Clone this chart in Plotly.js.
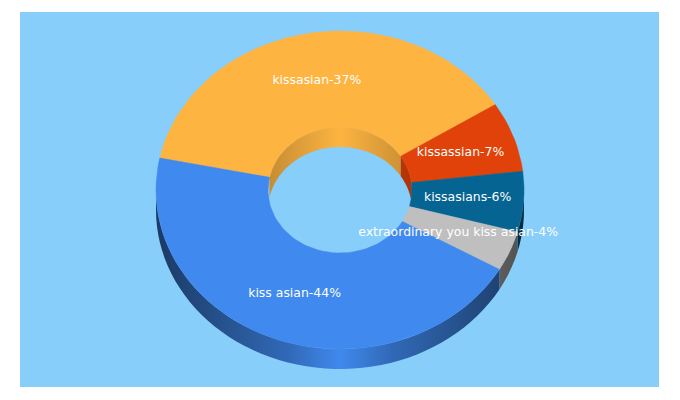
<!DOCTYPE html>
<html><head><meta charset="utf-8">
<script src="https://cdn.plot.ly/plotly-3.0.1.min.js"></script>
<style>html,body{margin:0;padding:0;background:#fff}#c{width:680px;height:400px}</style>
</head><body><div id="c"></div>
<script>
// Chart data
const categories = ["kissasian","kissassian","kissasians","extraordinary you kiss asian","kiss asian"];
const shares = [37,7,6,4,44];
const topColors = ["#fdb441","#e14209","#056492","#bfbfbf","#4089ee"];

// Geometry of the tilted ring
const outerX=184, outerY=159, innerX=72, innerY=63, depth=20, startDeg=281.6, steps=3;
const total = shares.reduce((a,b)=>a+b,0);
const rad = d=>d*Math.PI/180;
function shade(hex,f){
  const n=parseInt(hex.slice(1),16);
  return 'rgb('+[(n>>16)&255,(n>>8)&255,n&255].map(c=>Math.round(c*f)).join(',')+')';
}
function arc(rx,ry,a,b,dy){
  const xs=[],ys=[];
  const n=Math.max(2,Math.ceil(Math.abs(b-a)/steps));
  for(let i=0;i<=n;i++){const t=rad(a+(b-a)*i/n);xs.push(rx*Math.sin(t));ys.push(ry*Math.cos(t)-dy);}
  return [xs,ys];
}
const slices=[];let cur=startDeg;
shares.forEach((v,i)=>{const sweep=v/total*360;slices.push({i,a:cur,b:cur+sweep});cur+=sweep;});

const outerShade=[[0,.42],[.36,.77],[.5,1],[.64,.77],[1,.42]];
const innerShade=[[0,.78],[.5,1],[1,.78]];
function wall(rx,ry,a,b,i,profile){
  const [x1,y1]=arc(rx,ry,a,b,0),[x2,y2]=arc(rx,ry,b,a,depth);
  return {type:'scatter',mode:'none',x:x1.concat(x2),y:y1.concat(y2),fill:'toself',hoverinfo:'skip',showlegend:false,
    fillgradient:{type:'horizontal',start:-rx,stop:rx,
      colorscale:profile.map(([p,f])=>[p,shade(topColors[i],f)])}};
}
function overlap(s,lo,hi){ // ranges of a slice that fall in [lo,hi] modulo a full turn
  const out=[];
  for(const k of [-360,0,360]){const p=Math.max(s.a,lo+k),q=Math.min(s.b,hi+k);if(q>p)out.push([p,q]);}
  return out;
}
const traces=[];
// outer wall: front half; inner wall: back half
slices.forEach(s=>overlap(s,90,270).forEach(([p,q])=>traces.push(wall(outerX,outerY,p,q,s.i,outerShade))));
slices.forEach(s=>overlap(s,-90,90).forEach(([p,q])=>traces.push(wall(innerX,innerY,p,q,s.i,innerShade))));
// top faces
slices.forEach(s=>{
  const [x1,y1]=arc(outerX,outerY,s.a,s.b,0),[x2,y2]=arc(innerX,innerY,s.b,s.a,0);
  traces.push({type:'scatter',mode:'lines',x:x1.concat(x2,[x1[0]]),y:y1.concat(y2,[y1[0]]),fill:'toself',
    fillcolor:topColors[s.i],line:{color:topColors[s.i],width:0.5},hoverinfo:'skip',showlegend:false});
});
// labels
const midX=(outerX+innerX)/2, midY=(outerY+innerY)/2;
traces.push({type:'scatter',mode:'text',
  x:slices.map(s=>midX*Math.sin(rad((s.a+s.b)/2))),
  y:slices.map(s=>midY*Math.cos(rad((s.a+s.b)/2))),
  text:slices.map(s=>categories[s.i]+"-"+shares[s.i]+"%"),
  textposition:'middle center',textfont:{family:'"DejaVu Sans",sans-serif',size:12.45,color:'#fff'},
  hoverinfo:'skip',showlegend:false});

Plotly.newPlot('c',traces,{
  width:680,height:400,showlegend:false,
  margin:{l:20,r:21,t:12,b:13,pad:0},
  paper_bgcolor:'#ffffff',plot_bgcolor:'#87cefa',
  xaxis:{range:[-320,319],visible:false,fixedrange:true},
  yaxis:{range:[-197,178],visible:false,fixedrange:true}
},{displayModeBar:false,staticPlot:true});
</script></body></html>
